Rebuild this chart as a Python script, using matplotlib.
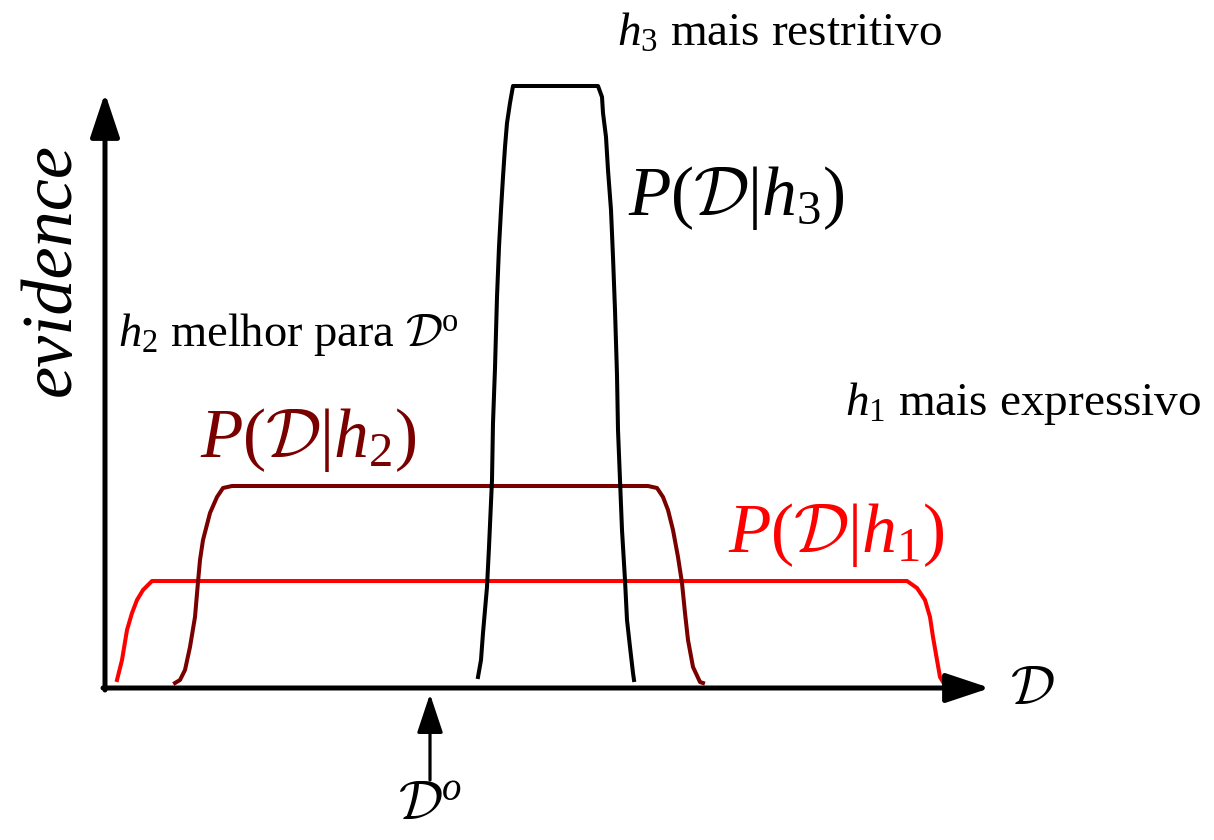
import matplotlib
matplotlib.use("Agg")
import matplotlib.pyplot as plt

plt.rcParams['mathtext.fontset'] = 'custom'
plt.rcParams['mathtext.rm'] = 'Liberation Serif'
plt.rcParams['mathtext.it'] = 'Liberation Serif:italic'
plt.rcParams['mathtext.cal'] = 'cmsy10'
plt.rcParams['font.family'] = 'Liberation Serif'

# evidence curves P(D|h) - outline points (D, evidence)
h1_x = [12, 17, 22, 27, 32, 38, 47, 802, 812, 820, 825, 828, 832, 835, 838]
h1_y = [8, 28, 58, 75, 88, 98, 107, 107, 100, 88, 71, 51, 28, 11, 6]

h2_x = [70, 75, 80, 85, 90, 93, 95, 98, 105, 112, 118, 127,
        543, 552, 558, 563, 568, 573, 577, 580, 583, 588, 595, 598]
h2_y = [5, 8, 18, 41, 71, 106, 128, 148, 175, 191, 200, 202,
        202, 200, 191, 178, 158, 131, 105, 75, 48, 21, 6, 5]

h3_x = [373, 376, 378, 382, 384, 387, 388, 390, 392, 394, 396, 398, 400, 402, 405, 408,
        493, 497, 498, 501, 503, 506, 508, 510, 512, 513, 515, 517, 520, 522, 525, 528, 529]
h3_y = [11, 28, 55, 101, 141, 208, 265, 320, 391, 441, 478, 511, 541, 565, 585, 602,
        602, 591, 575, 551, 518, 478, 431, 378, 313, 258, 208, 158, 108, 68, 41, 15, 8]

d_obs = 325          # observed data set D^o
x_end, y_end = 885, 595

fig = plt.figure(figsize=(12.14, 8.40), dpi=100)
ax = fig.add_axes([0, 0, 1, 1])
ax.set_xlim(-105, 1109)
ax.set_ylim(-152, 688)
ax.axis('off')

ax.plot(h1_x, h1_y, color='#ff0000', lw=2.9, solid_joinstyle='round')
ax.plot(h2_x, h2_y, color='#7a0000', lw=2.9, solid_joinstyle='round')
ax.plot(h3_x, h3_y, color='black', lw=2.9, solid_joinstyle='round')

# axes with arrow heads
arrow = dict(arrowstyle='-|>,head_length=1.35,head_width=0.45', lw=3.6,
             color='black', mutation_scale=20, shrinkA=0, shrinkB=0)
ax.annotate('', xy=(x_end, 0), xytext=(-2, 0), arrowprops=arrow)
ax.annotate('', xy=(0, y_end), xytext=(0, -2), arrowprops=arrow)
ax.annotate('', xy=(d_obs, -6), xytext=(d_obs, -92),
            arrowprops=dict(arrowstyle='-|>,head_length=1.5,head_width=0.5', lw=2.3,
                            color='black', mutation_scale=16, shrinkA=0, shrinkB=0))

ax.text(-53, 418, 'evidence', rotation=90, fontsize=52, style='italic',
        ha='center', va='center')
ax.text(905, -2, r'$\mathcal{D}$', fontsize=40, ha='left', va='center')
ax.text(d_obs, -117, r'$\mathcal{D}^o$', fontsize=40, ha='center', va='center')

ax.text(512, 642, r'$h_3$ mais restritivo', fontsize=34, va='baseline')
ax.text(13, 342, r'$h_2$ melhor para $\mathcal{D}^{\rm o}$', fontsize=33.5, va='baseline')
ax.text(740, 273, r'$h_1$ mais expressivo', fontsize=34, va='baseline')

ax.text(523, 473, r'$P\mathit{(}\mathcal{D}|h_{\mathit{3}}\mathit{)}$', fontsize=50,
        va='baseline', color='black')
ax.text(95, 231, r'$P\mathit{(}\mathcal{D}|h_{\mathit{2}}\mathit{)}$', fontsize=50,
        va='baseline', color='#7a0000')
ax.text(623, 136, r'$P\mathit{(}\mathcal{D}|h_{\mathit{1}}\mathit{)}$', fontsize=50,
        va='baseline', color='#ff0000')

fig.savefig('out.png', dpi=100)
